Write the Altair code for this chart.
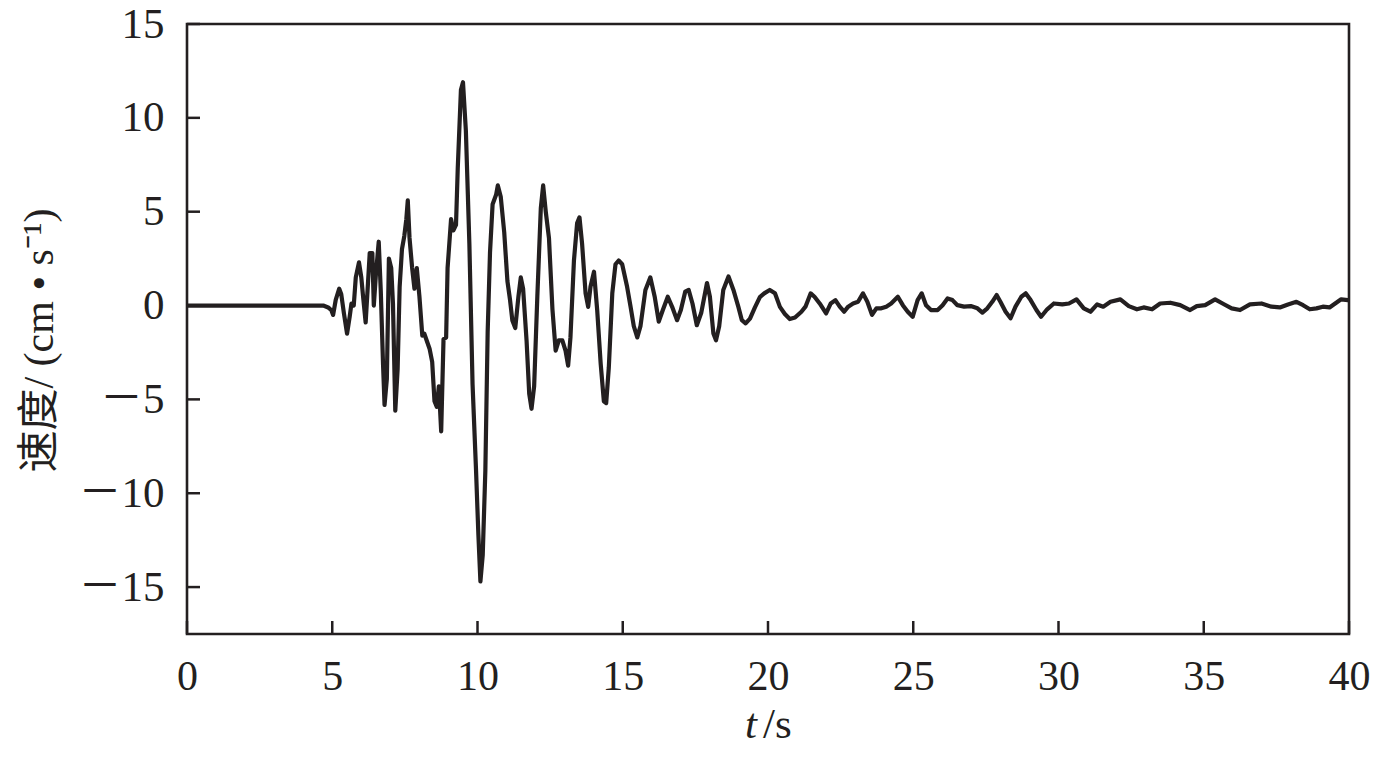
import altair as alt
import pandas as pd

t_vals = [0, 4.6, 4.69, 4.86, 4.97, 5.03, 5.12, 5.24, 5.31, 5.40, 5.51, 5.60, 5.66, 5.74, 5.81, 5.92, 6.00, 6.06,
          6.15, 6.23, 6.29, 6.38, 6.43, 6.50, 6.60, 6.67, 6.75, 6.80, 6.88, 6.95, 7.03, 7.09, 7.17, 7.25, 7.32,
          7.40, 7.48, 7.55, 7.60, 7.66, 7.75, 7.83, 7.91, 8.00, 8.10, 8.17, 8.35, 8.44, 8.52, 8.60, 8.67, 8.75,
          8.83, 8.92, 8.97, 9.09, 9.17, 9.26, 9.32, 9.43, 9.50, 9.60, 9.72, 9.83, 9.95, 10.03, 10.10, 10.18,
          10.27, 10.35, 10.43, 10.52, 10.64, 10.70, 10.80, 10.92, 11.03, 11.12, 11.20, 11.30, 11.41, 11.49,
          11.57, 11.69, 11.78, 11.86, 11.95, 12.06, 12.18, 12.26, 12.35, 12.46, 12.58, 12.69, 12.80, 12.92,
          13.03, 13.12, 13.20, 13.32, 13.43, 13.51, 13.60, 13.72, 13.81, 13.89, 14.01, 14.12, 14.24, 14.35,
          14.43, 14.52, 14.64, 14.75, 14.86, 14.98, 15.15, 15.27, 15.38, 15.50, 15.61, 15.78, 15.95, 16.10,
          16.24, 16.38, 16.55, 16.70, 16.87, 17.00, 17.15, 17.27, 17.40, 17.55, 17.70, 17.90, 18.00, 18.12,
          18.21, 18.32, 18.46, 18.64, 18.81, 18.98, 19.10, 19.23, 19.38, 19.55, 19.72, 19.87, 20.06, 20.24,
          20.41, 20.58, 20.75, 20.93, 21.15, 21.29, 21.47, 21.60, 21.78, 22.00, 22.16, 22.32, 22.47, 22.62,
          22.76, 22.93, 23.10, 23.27, 23.42, 23.58, 23.73, 23.90, 24.07, 24.24, 24.47, 24.64, 24.81, 24.98,
          25.15, 25.29, 25.44, 25.61, 25.84, 26.01, 26.18, 26.35, 26.52, 26.75, 26.98, 27.21, 27.38, 27.55,
          27.72, 27.87, 28.00, 28.18, 28.35, 28.52, 28.72, 28.87, 29.04, 29.24, 29.40, 29.61, 29.84, 30.13,
          30.36, 30.62, 30.87, 31.10, 31.33, 31.54, 31.79, 32.13, 32.42, 32.70, 32.93, 33.22, 33.50, 33.85,
          34.19, 34.53, 34.76, 35.05, 35.39, 35.68, 35.96, 36.25, 36.59, 36.99, 37.33, 37.62, 37.90, 38.19,
          38.42, 38.65, 38.88, 39.10, 39.33, 39.56, 39.73, 39.96, 40.0]

v_vals = [0, 0, 0, -0.1, -0.25, -0.5, 0.3, 0.9, 0.6, -0.4, -1.5, -0.6, 0.1, 0.0, 1.5, 2.3, 1.5, 0.5,
          -0.9, 1.2, 2.8, 2.8, 0.0, 1.6, 3.4, 0.8, -3.2, -5.3, -3.9, 2.5, 2.0, 0.1, -5.6, -3.4, 1.0,
          3.0, 3.7, 4.6, 5.6, 3.6, 2.0, 0.9, 2.0, 0.5, -1.6, -1.5, -2.3, -3.0, -5.1, -5.4, -4.3, -6.7,
          -1.8, -1.7, 2.0, 4.6, 4.0, 4.3, 7.3, 11.5, 11.9, 9.3, 3.3, -4.2, -8.8, -12.2, -14.7, -13.3,
          -8.8, -1.4, 2.8, 5.4, 5.9, 6.4, 5.8, 3.9, 1.3, 0.3, -0.8, -1.2, 0.5, 1.5,
          0.9, -1.9, -4.7, -5.5, -4.3, 0.5, 5.2, 6.4, 5.0, 3.6, -0.2, -2.4, -1.85, -1.85,
          -2.4, -3.2, -1.7, 2.4, 4.4, 4.7, 3.3, 0.65, -0.07, 1.0, 1.8, -0.24, -3.1, -5.1,
          -5.2, -3.3, 0.65, 2.2, 2.4, 2.2, 1.0, -0.07, -1.1, -1.7, -1.1, 0.83, 1.5, 0.47,
          -0.86, -0.24, 0.47, -0.07, -0.78, -0.24, 0.74, 0.83, 0.11, -1.05, -0.4, 1.2, 0.47, -1.49,
          -1.85, -1.1, 0.83, 1.55, 0.83, -0.07, -0.78, -0.95, -0.7, -0.1, 0.45, 0.65, 0.83, 0.65,
          -0.07, -0.45, -0.72, -0.64, -0.33, -0.06, 0.65, 0.47, 0.11, -0.42, 0.11, 0.29, -0.06, -0.33,
          -0.06, 0.11, 0.2, 0.65, 0.2, -0.5, -0.15, -0.15, -0.06, 0.11, 0.47, 0.02, -0.33, -0.6,
          0.29, 0.65, 0.02, -0.24, -0.24, 0.02, 0.38, 0.29, 0.02, -0.06, -0.03, -0.15, -0.38, -0.15,
          0.2, 0.56, 0.2, -0.33, -0.68, -0.06, 0.47, 0.65, 0.29, -0.24, -0.6, -0.2, 0.11, 0.06,
          0.11, 0.33, -0.15, -0.33, 0.06, -0.06, 0.2, 0.33, -0.03, -0.2, -0.1, -0.2, 0.11, 0.15,
          0.02, -0.24, -0.03, 0.02, 0.33, 0.08, -0.15, -0.24, 0.06, 0.11, -0.06, -0.1, 0.06, 0.2,
          0.02, -0.2, -0.15, -0.06, -0.1, 0.15, 0.33, 0.29, 0.29]

x_ticks = [0, 5, 10, 15, 20, 25, 30, 35, 40]
y_ticks = [15, 10, 5, 0, -5, -10, -15]

df = pd.DataFrame({"t": t_vals, "v": v_vals})
xt = pd.DataFrame({"t": x_ticks})
yt = pd.DataFrame({"v": y_ticks})

INK = "#231f20"
SERIF = "Liberation Serif, Times New Roman, Noto Sans CJK SC"
W, H = 1162, 610
TICK = 13

xscale = alt.Scale(domain=[0, 40], nice=False, zero=False)
yscale = alt.Scale(domain=[-17.5, 15], nice=False, zero=False)

line = alt.Chart(df).mark_line(color=INK, strokeWidth=4.2, strokeJoin="round", clip=True).encode(
    x=alt.X("t:Q", scale=xscale,
            axis=alt.Axis(values=x_ticks, format="d", title=None, domain=False, grid=False,
                          ticks=False, orient="bottom",
                          labelPadding=22, labelFont=SERIF, labelFontSize=42, labelColor=INK,
                          labelFlush=False)),
    y=alt.Y("v:Q", scale=yscale,
            axis=alt.Axis(values=y_ticks, title="速度/ (cm • s⁻¹)", domain=False, grid=False,
                          ticks=False, orient="left",
                          labelPadding=23, labelFont=SERIF, labelFontSize=43, labelColor=INK,
                          labelFlush=False,
                          labelExpr="datum.value < 0 ? '\uff0d' + abs(datum.value) : datum.label",
                          titleFont=SERIF, titleFontSize=42, titleFontWeight="normal",
                          titleColor=INK, titleX=-148, titleY=316, titleBaseline="middle",
                          titleAngle=270)),
)

xticks_layer = alt.Chart(xt).mark_rule(color=INK, strokeWidth=2.5).encode(
    x=alt.X("t:Q", scale=xscale), y=alt.value(H), y2=alt.value(H - TICK))

yticks_layer = alt.Chart(yt).mark_rule(color=INK, strokeWidth=2.5).encode(
    y=alt.Y("v:Q", scale=yscale), x=alt.value(0), x2=alt.value(TICK))

frame = alt.Chart(pd.DataFrame({"a": [0]})).mark_rect(
    fillOpacity=0, stroke=INK, strokeWidth=2.6
).encode(x=alt.value(0), x2=alt.value(W), y=alt.value(0), y2=alt.value(H))

t_label = alt.Chart(pd.DataFrame({"s": ["t"]})).mark_text(
    font=SERIF, fontSize=43, fontStyle="italic", color=INK, align="right", baseline="alphabetic"
).encode(text="s:N", x=alt.value(570), y=alt.value(714))

s_label = alt.Chart(pd.DataFrame({"s": ["/s"]})).mark_text(
    font=SERIF, fontSize=43, color=INK, align="left", baseline="alphabetic"
).encode(text="s:N", x=alt.value(576), y=alt.value(714))

chart = alt.layer(line, xticks_layer, yticks_layer, frame, t_label, s_label).properties(
    width=W, height=H,
    autosize=alt.AutoSizeParams(type="none"),
    padding={"left": 179, "top": 16, "right": 21, "bottom": 117},
).configure_view(strokeWidth=0).configure(background="white")

chart.save("out.html", embed_options={"renderer": "svg", "actions": False})
